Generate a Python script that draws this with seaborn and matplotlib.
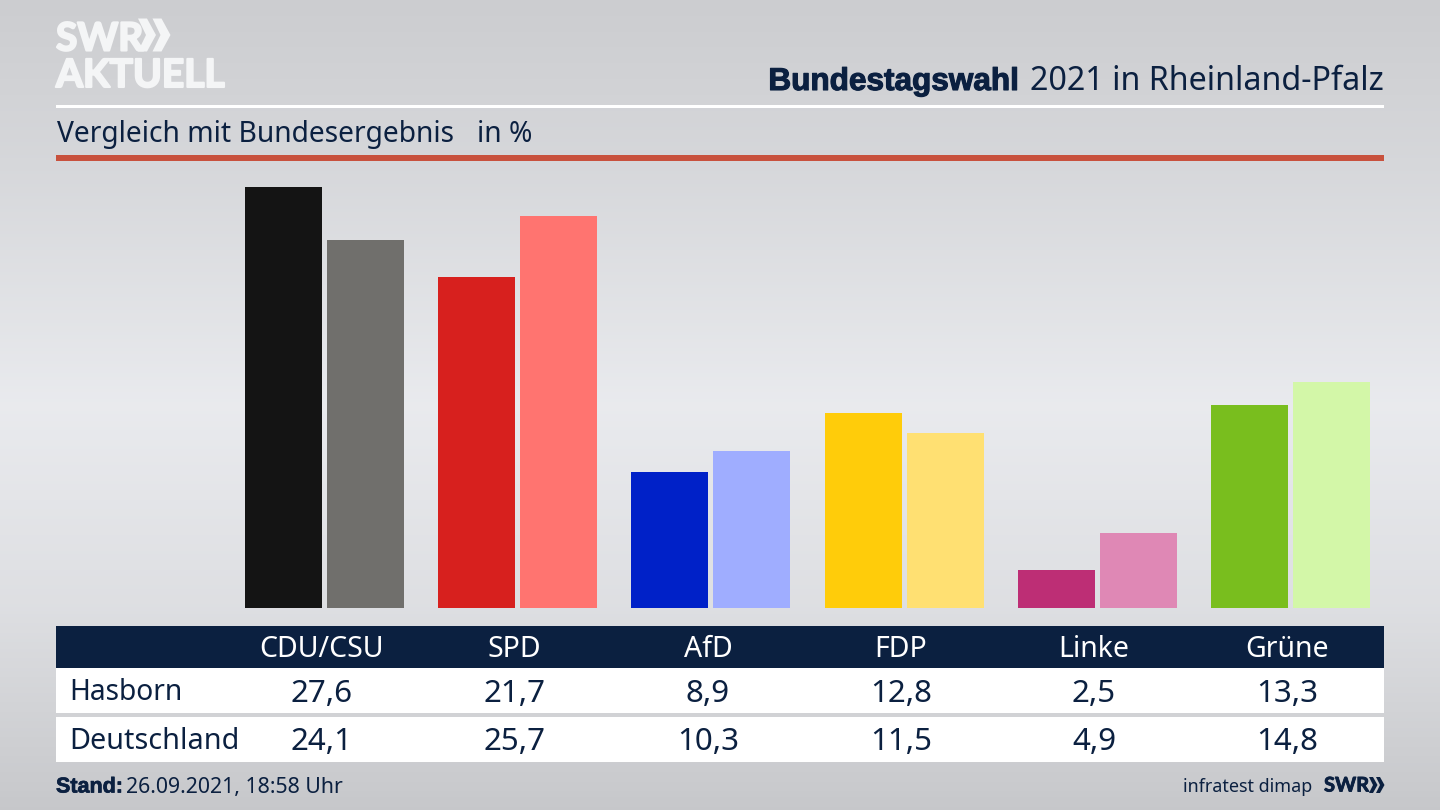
import numpy as np
import pandas as pd
import seaborn as sns
import matplotlib
matplotlib.use("Agg")
import matplotlib.pyplot as plt
import matplotlib.patheffects as pe
from matplotlib.patches import Rectangle, Polygon

parties = ["CDU/CSU", "SPD", "AfD", "FDP", "Linke", "Grüne"]
hasborn = [27.6, 21.7, 8.9, 12.8, 2.5, 13.3]
deutschland = [24.1, 25.7, 10.3, 11.5, 4.9, 14.8]
hasborn_labels = ["27,6", "21,7", "8,9", "12,8", "2,5", "13,3"]
deutschland_labels = ["24,1", "25,7", "10,3", "11,5", "4,9", "14,8"]
colors_local = ["#141414", "#d7201e", "#0021c8", "#ffcc0a", "#bd2e75", "#79be1e"]
colors_nat = ["#706f6c", "#ff7470", "#9fadff", "#ffe072", "#df88b5", "#d3f7a8"]

sns.set_theme(style="white")
plt.rcParams["font.family"] = ["Noto Sans", "DejaVu Sans"]
NAVY = "#0b2040"
BOLD = ["Liberation Sans", "DejaVu Sans"]
LOGO = ["Lato", "Liberation Sans", "DejaVu Sans"]
W, H = 1440, 810
fig = plt.figure(figsize=(14.4, 8.1), dpi=100)

# background gradient
bg = fig.add_axes([0, 0, 1, 1], zorder=0)
stops_y = [0, 0.2, 0.5, 0.75, 1]
stops_v = [0.80, 0.84, 0.915, 0.87, 0.78]
grad = np.interp(np.linspace(0, 1, 256), stops_y, stops_v)
base = np.array([1.0, 1.005, 1.02])
img = np.clip(grad[:, None, None] * base[None, None, :], 0, 1)
bg.imshow(img, aspect="auto", extent=(0, W, H, 0))
bg.axis("off")

# bars
ax = fig.add_axes([0, 0, 1, 1], zorder=1)
ax.patch.set_alpha(0)
df = pd.DataFrame({
    "Partei": parties * 2,
    "Wert": hasborn + deutschland,
    "Gebiet": ["Hasborn"] * 6 + ["Deutschland"] * 6,
})
sns.barplot(data=df, x="Partei", y="Wert", hue="Gebiet", order=parties,
            hue_order=["Hasborn", "Deutschland"], width=0.849, gap=0.061,
            legend=False, ax=ax, saturation=1, errorbar=None)
for cont, cols in zip(ax.containers, [colors_local, colors_nat]):
    for bar, c in zip(cont, cols):
        bar.set_facecolor(c)
        bar.set_edgecolor("none")
xs, ys = 193.2, 15.25
ax.set_xlim((0 - 324.5) / xs, (W - 324.5) / xs)
ax.set_ylim(-(H - 608) / ys, 608 / ys)
ax.axis("off")

# overlay in pixel coordinates
ov = fig.add_axes([0, 0, 1, 1], zorder=2)
ov.set_xlim(0, W)
ov.set_ylim(H, 0)
ov.axis("off")
ov.patch.set_alpha(0)

def rect(x0, y0, x1, y1, c):
    ov.add_patch(Rectangle((x0, y0), x1 - x0, y1 - y0, fc=c, ec="none"))

rect(56, 104.5, 1384, 107.5, "white")
rect(56, 155, 1384, 160.5, "#c8513d")
rect(56, 626, 1384, 668, NAVY)
rect(56, 668, 1384, 713, "white")
rect(56, 717, 1384, 762, "white")

heavy = [pe.withStroke(linewidth=0.8, foreground=NAVY)]
# header
ov.text(1384, 90, "2021 in Rheinland-Pfalz", ha="right", va="baseline", fontsize=23.2, color=NAVY)
ov.text(1019, 90, "Bundestagswahl", ha="right", va="baseline", fontsize=22.7,
        family=BOLD, fontweight="bold", color=NAVY, path_effects=heavy)
ov.text(57, 142, "Vergleich mit Bundesergebnis", ha="left", va="baseline", fontsize=20.3, color=NAVY)
ov.text(477, 142, "in %", ha="left", va="baseline", fontsize=20.3, color=NAVY)

# logo
white = "#f4f5f6"
lheavy = [pe.withStroke(linewidth=1.5, foreground=white)]
ov.text(56, 50.5, "SWR", ha="left", va="baseline", fontsize=28, family=LOGO, fontweight="bold",
        color=white, path_effects=lheavy)
ov.text(56, 87, "AKTUELL", ha="left", va="baseline", fontsize=28, family=LOGO, fontweight="bold",
        color=white, path_effects=lheavy)
for dx in (0, 14.5):
    ov.add_patch(Polygon([(138 + dx, 18.5), (147 + dx, 18.5), (156 + dx, 35), (147 + dx, 51.5),
                          (138 + dx, 51.5), (146 + dx, 35)], fc=white, ec="none"))

# table
centers = [321.5, 514.5, 708, 901, 1094, 1287]
for cx, p, a, b in zip(centers, parties, hasborn_labels, deutschland_labels):
    ov.text(cx, 657, p, ha="center", va="baseline", fontsize=20.5, color="white")
    ov.text(cx, 701.5, a, ha="center", va="baseline", fontsize=22.5, color=NAVY)
    ov.text(cx, 750.5, b, ha="center", va="baseline", fontsize=22.5, color=NAVY)
ov.text(69.5, 700, "Hasborn", ha="left", va="baseline", fontsize=20.3, color=NAVY)
ov.text(69.5, 749, "Deutschland", ha="left", va="baseline", fontsize=20.7, color=NAVY)

# footer
ov.text(56, 792.5, "Stand:", ha="left", va="baseline", fontsize=15.5, family=BOLD, fontweight="bold",
        color=NAVY, path_effects=[pe.withStroke(linewidth=0.5, foreground=NAVY)])
ov.text(126, 792.5, "26.09.2021, 18:58 Uhr", ha="left", va="baseline", fontsize=15.3, color=NAVY)
ov.text(1312, 791.5, "infratest dimap", ha="right", va="baseline", fontsize=12.9, color=NAVY)
ov.text(1324, 791.5, "SWR", ha="left", va="baseline", fontsize=14.5, family=LOGO, fontweight="bold",
        color=NAVY, path_effects=[pe.withStroke(linewidth=0.6, foreground=NAVY)])
for dx in (0, 7):
    ov.add_patch(Polygon([(1369 + dx, 777), (1373 + dx, 777), (1377.5 + dx, 785), (1373 + dx, 793),
                          (1369 + dx, 793), (1373 + dx, 785)], fc=NAVY, ec="none"))

fig.savefig("out.png", dpi=100)
